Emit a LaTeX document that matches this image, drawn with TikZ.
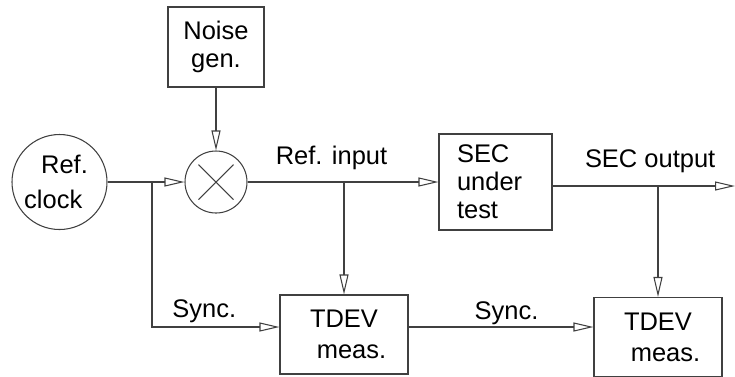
\documentclass[tikz,border=0pt]{standalone}
\usepackage{fontspec}
\setmainfont{Liberation Sans}
\usetikzlibrary{arrows.meta}
\tikzstyle{block} = [rectangle, minimum width=2.56cm, minimum height=1.58cm, inner sep=0pt, align=center, draw=black!75, line width=0.6pt]
\tikzstyle{source} = [circle, minimum size=1.9cm, inner sep=0pt, align=center, draw=black!75, line width=0.6pt]
\tikzstyle{multiplier} = [circle, minimum size=1.24cm, inner sep=0pt, draw=black!75, line width=0.6pt, path picture={\draw[black!75, line width=0.6pt] ([shift={(-0.35,-0.35)}]path picture bounding box.center) -- ([shift={(0.35,0.35)}]path picture bounding box.center) ([shift={(-0.35,0.35)}]path picture bounding box.center) -- ([shift={(0.35,-0.35)}]path picture bounding box.center);}]
\tikzstyle{arrow} = [line width=0.6pt, draw=black!75, ->, >={Triangle[open, length=0.4cm, width=0.18cm]}]
\tikzstyle{sig} = [inner sep=0pt]

\begin{document}
\begin{tikzpicture}[node distance=2cm, font=\fontsize{14.5}{16}\selectfont]
		\useasboundingbox (-1.19,-3.88) rectangle (13.51,3.64);
		\node (refclk) [source] {\hspace*{0.2cm}Ref.\\[4pt]clock\hspace*{0.25cm}};
		\node (mix) [multiplier, right of=refclk, xshift=1.13cm] {};
		\node (noise) [block, minimum width=1.92cm, minimum height=1.6cm, above of=mix, yshift=0.7cm] {Noise\\gen.};
		\node (sec) [block, minimum width=2.26cm, minimum height=1.92cm, text width=1.54cm, align=left, right of=mix, xshift=3.59cm] {SEC\\under\\test};
		\node (tdevA) [block, below of=mix, xshift=2.56cm, yshift=-1.05cm] {TDEV\\[1.6pt]\hspace*{0.3cm}meas.};
		\node (tdevB) [block, right of=tdevA, xshift=4.28cm, yshift=-0.05cm] {TDEV\\[1.6pt]\hspace*{0.3cm}meas.};
		\coordinate [right of=refclk, xshift=-0.15cm] (tap);
		\coordinate [right of=sec, xshift=2.79cm, yshift=-0.08cm] (out);
		\draw [arrow] (noise) -- (mix);
		\draw [arrow] (refclk) -- (mix);
		\draw [arrow] (mix) -- node[sig, pos=0.44, above=0.23cm] {Ref. input} (sec);
		\draw [arrow] (sec.east |- out) -- node[sig, pos=0.535, above=0.25cm] {SEC output} (out);
		\draw [arrow] (tap) |- node[sig, pos=0.705, above=0.07cm] {Sync.} ([yshift=0.15cm]tdevA.west);
		\draw [arrow] ([yshift=0.15cm]tdevA.east) -- node[sig, pos=0.53, above=0.04cm] {Sync.} ([yshift=0.15cm]tdevA.east -| tdevB.west);
		\draw [arrow] (tdevA |- mix) -- (tdevA);
		\draw [arrow] (tdevB |- out) -- (tdevB);
	\end{tikzpicture}
\end{document}
